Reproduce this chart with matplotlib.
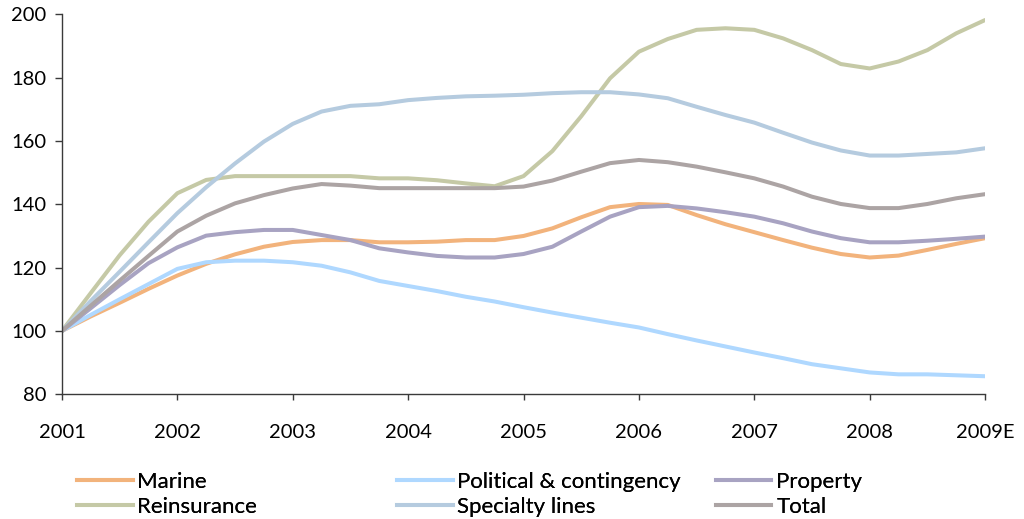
import matplotlib
matplotlib.use("Agg")
import matplotlib.pyplot as plt
from matplotlib.lines import Line2D

plt.rcParams['font.family'] = ['Lato', 'DejaVu Sans']

# Quarterly index values, 2001 = 100
quarters = [2001 + 0.25 * i for i in range(33)]

marine = [100, 104.6, 108.9, 113.3,
          117.5, 121.2, 124.2, 126.6,
          128.1, 128.7, 128.7, 128.0,
          128.0, 128.2, 128.7, 128.7,
          130.0, 132.4, 135.9, 139.1,
          140.1, 139.8, 136.6, 133.7,
          131.2, 128.7, 126.3, 124.3,
          123.2, 123.8, 125.6, 127.5,
          129.3]

political = [100, 105.1, 110.0, 114.8,
             119.6, 121.7, 122.2, 122.2,
             121.7, 120.6, 118.5, 115.8,
             114.2, 112.6, 110.8, 109.3,
             107.5, 105.8, 104.2, 102.6,
             101.1, 99.0, 97.0, 95.1,
             93.2, 91.4, 89.5, 88.2,
             86.9, 86.3, 86.3, 86.0,
             85.7]

property_ = [100, 107.2, 114.5, 121.4,
             126.4, 130.1, 131.2, 131.9,
             131.9, 130.3, 128.7, 126.1,
             124.8, 123.7, 123.2, 123.2,
             124.3, 126.6, 131.4, 136.1,
             139.1, 139.5, 138.7, 137.5,
             136.1, 134.0, 131.4, 129.3,
             128.0, 128.0, 128.5, 129.1,
             129.8]

reinsurance = [100, 112.0, 123.9, 134.5,
               143.5, 147.7, 148.9, 148.9,
               148.9, 148.9, 148.9, 148.2,
               148.2, 147.6, 146.6, 145.7,
               148.9, 156.8, 167.8, 179.8,
               188.2, 192.2, 195.1, 195.6,
               195.1, 192.4, 188.7, 184.3,
               182.9, 185.1, 188.7, 194.0,
               198.2]

specialty = [100, 109.5, 118.7, 128.0,
             137.2, 145.4, 152.9, 159.8,
             165.4, 169.3, 171.1, 171.6,
             172.9, 173.6, 174.1, 174.3,
             174.6, 175.1, 175.4, 175.4,
             174.7, 173.5, 170.8, 168.2,
             165.8, 162.6, 159.5, 157.0,
             155.4, 155.4, 155.9, 156.4,
             157.7]

total = [100, 108.0, 115.9, 123.7,
         131.4, 136.4, 140.3, 142.9,
         145.0, 146.4, 145.9, 145.1,
         145.1, 145.1, 145.1, 145.1,
         145.6, 147.5, 150.3, 153.0,
         154.0, 153.3, 151.9, 150.1,
         148.2, 145.6, 142.4, 140.1,
         138.8, 138.8, 140.1, 141.9,
         143.2]

year_ticks = [2001, 2002, 2003, 2004, 2005, 2006, 2007, 2008, 2009]
year_labels = ['2001', '2002', '2003', '2004', '2005', '2006', '2007', '2008', '2009E']
y_ticks = [80, 100, 120, 140, 160, 180, 200]

series_names = ['Marine', 'Political & contingency', 'Property',
                'Reinsurance', 'Specialty lines', 'Total']
series_values = [marine, political, property_, reinsurance, specialty, total]
series_colors = ['#F2B37C', '#AFD8FF', '#A8A3C2', '#C5C9A6', '#B5CBDF', '#ACA4A4']

fig = plt.figure(figsize=(10.24, 5.19), dpi=100)
ax = fig.add_axes([0.0605, 0.2403, 0.9015, 0.7321])

for name, vals, col in zip(series_names, series_values, series_colors):
    ax.plot(quarters, vals, color=col, lw=2.9, solid_capstyle='round',
            solid_joinstyle='round', label=name)

ax.set_xlim(2001, 2009)
ax.set_ylim(80, 200)
ax.set_xticks(year_ticks)
ax.set_xticklabels(year_labels)
ax.set_yticks(y_ticks)

for side in ('top', 'right'):
    ax.spines[side].set_visible(False)
for side in ('left', 'bottom'):
    ax.spines[side].set_color('#3a3a3a')
    ax.spines[side].set_linewidth(1.0)

ax.tick_params(axis='y', direction='out', length=5, width=1.0, color='#3a3a3a',
               labelsize=14.5, pad=6)
ax.tick_params(axis='x', direction='out', length=4.5, width=1.0, color='#3a3a3a',
               labelsize=14.5, pad=17)

# Legend: three columns of two entries each
handles = [Line2D([], [], color=c, lw=2.9) for c in series_colors]
columns = [(0, 3, 0.0752), (1, 4, 0.3877), (2, 5, 0.699)]
for i, j, x0 in columns:
    leg = fig.legend([handles[i], handles[j]], [series_names[i], series_names[j]],
                     loc='upper left', bbox_to_anchor=(x0, 0.0915),
                     bbox_transform=fig.transFigure, frameon=False,
                     fontsize=16, handlelength=2.5, handletextpad=0.22,
                     labelspacing=0.23, borderpad=0, borderaxespad=0)
    fig.add_artist(leg)

fig.savefig('out.png', dpi=100)
